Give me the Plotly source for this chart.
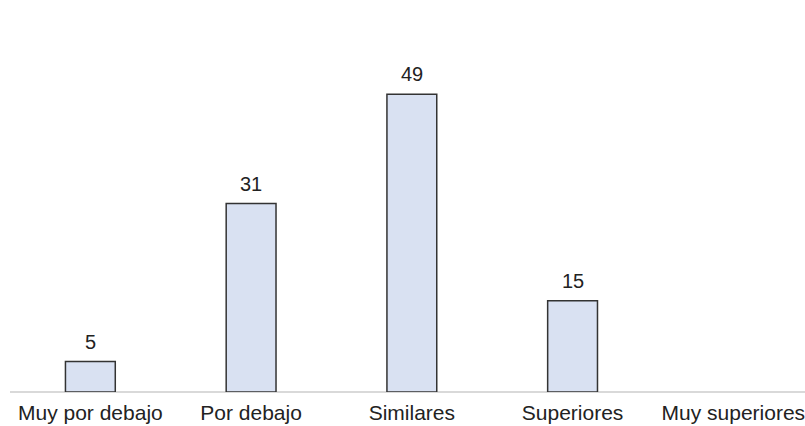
import plotly.graph_objects as go

categories = ["Muy por debajo", "Por debajo", "Similares", "Superiores", "Muy superiores"]
values = [5, 31, 49, 15, 0]

# no outline on an empty bar
outline_widths = [1.5 if v > 0 else 0 for v in values]

fig = go.Figure()
fig.add_trace(go.Bar(
    x=categories,
    y=values,
    width=0.31,
    marker=dict(color="#D9E1F2", line=dict(color="#333333", width=outline_widths)),
    hoverinfo="skip",
))

# value labels above each non-empty bar
for c, v in zip(categories, values):
    if v > 0:
        fig.add_annotation(x=c, y=v, text=str(v), showarrow=False,
                           yanchor="bottom", yshift=7,
                           font=dict(family="Liberation Sans, Arial", size=20, color="#222222"))

fig.update_layout(
    width=805, height=426,
    margin=dict(l=10, r=0, t=20, b=34),
    paper_bgcolor="white", plot_bgcolor="white",
    showlegend=False,
    font=dict(family="Liberation Sans, Arial", size=21, color="#222222"),
    xaxis=dict(
        range=[-0.5, 4.446],
        showgrid=False, zeroline=False,
        showline=False,
        ticks="", ticklabelstandoff=6,
        tickfont=dict(size=21, color="#222222"),
    ),
    yaxis=dict(
        range=[0, 61.2],
        showgrid=False, showticklabels=False, ticks="",
        zeroline=True, zerolinecolor="#D9D9D9", zerolinewidth=2,
        showline=False,
    ),
)

fig.write_html("out.html")
